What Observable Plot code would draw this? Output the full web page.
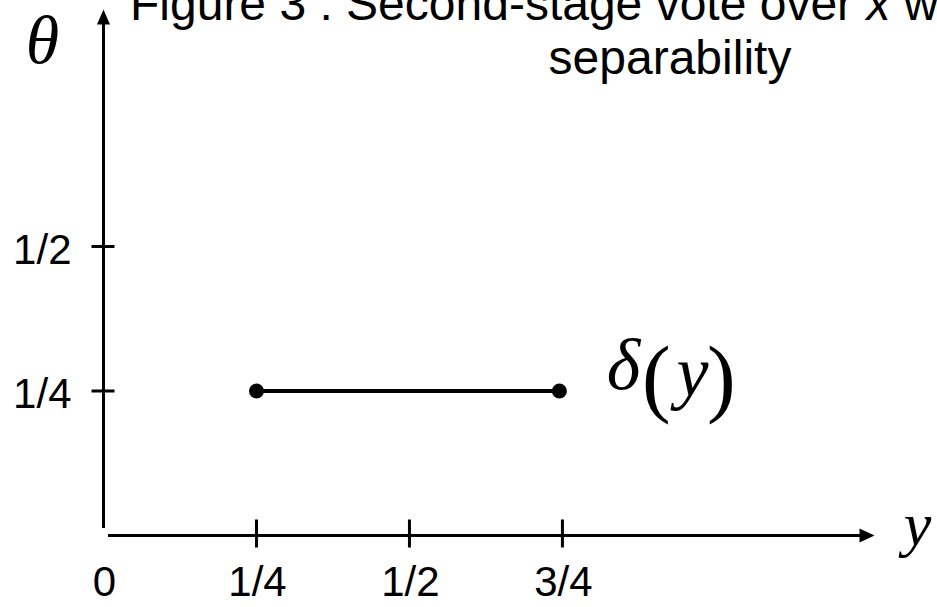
<!DOCTYPE html>
<html>
<head>
<meta charset="utf-8">
<script src="https://cdn.jsdelivr.net/npm/d3@7"></script>
<script src="https://cdn.jsdelivr.net/npm/@observablehq/plot@0.6"></script>
<style>
  html, body { margin: 0; padding: 0; background: #fff; }
  #wrap { position: relative; width: 937px; height: 607px; overflow: hidden; }
  .title { position: absolute; font-family: "Liberation Sans", Arial, sans-serif; font-size: 48px; line-height: 1; white-space: nowrap; color: #000; }
  #t1 { left: 130px; top: -19.6px; }
  #t2 { left: 670px; top: 34.4px; transform: translateX(-50%); }
  svg { position: absolute; left: 0; top: 0; }
  g[aria-label="tick labels"] text { letter-spacing: 2px; }
</style>
</head>
<body>
<div id="wrap">
  <div class="title" id="t1">Figure 3 : Second-stage vote over <i>x</i> with</div>
  <div class="title" id="t2">separability</div>
</div>
<script>
// ---- data ----
const xTickValues = [0.25, 0.5, 0.75];
const xLabelValues = [0, 0.25, 0.5, 0.75];
const xLabels = ["0", "1/4", "1/2", "3/4"];
const yTickValues = [0.25, 0.5];
const yLabels = ["1/4", "1/2"];
const segmentX = [0.25, 0.745];
const segmentTheta = [0.25, 0.25];
const xMax = 1.26;
const yMax = 0.91;

const segment = segmentX.map((x, i) => ({x, y: segmentTheta[i]}));
const serif = "'Liberation Serif', 'Times New Roman', serif";
const sans = "'Liberation Sans', Arial, sans-serif";

// custom symbols
const arrowRight = {draw(ctx) { ctx.moveTo(0, 0); ctx.lineTo(-15, -7); ctx.lineTo(-15, 7); ctx.closePath(); }};
const arrowUp = {draw(ctx) { ctx.moveTo(0, 0); ctx.lineTo(-6.5, 15); ctx.lineTo(6.5, 15); ctx.closePath(); }};
const vTick = {draw(ctx) { ctx.moveTo(0, -16); ctx.lineTo(0, 12); }};
const hTick = {draw(ctx) { ctx.moveTo(-12, 0); ctx.lineTo(11, 0); }};

const chart = Plot.plot({
  width: 937,
  height: 607,
  marginLeft: 103,
  marginRight: 63,
  marginTop: 9,
  marginBottom: 72,
  x: {domain: [0, xMax], axis: null},
  y: {domain: [0, yMax], axis: null},
  marks: [
    // axes
    Plot.ruleY([0], {x1: 0, x2: xMax, insetLeft: 5, insetRight: 14, stroke: "black", strokeWidth: 3}),
    Plot.ruleX([0], {y1: yMax, y2: 0, insetTop: 14, insetBottom: 7, stroke: "black", strokeWidth: 3}),
    Plot.dot([xMax], {x: d => d, y: 0, symbol: arrowRight, fill: "black", stroke: "none"}),
    Plot.dot([yMax], {x: 0, y: d => d, symbol: arrowUp, fill: "black", stroke: "none"}),
    // ticks
    Plot.dot(xTickValues, {x: d => d, y: 0, symbol: vTick, fill: "none", stroke: "black", strokeWidth: 3}),
    Plot.dot(yTickValues, {x: 0, y: d => d, symbol: hTick, fill: "none", stroke: "black", strokeWidth: 3}),
    // tick labels
    Plot.text(xLabelValues, {x: d => d, y: 0, text: (d, i) => xLabels[i], dx: 1, dy: 47, textAnchor: "middle", lineAnchor: "middle", fontSize: 42, fontFamily: sans, fill: "black", ariaLabel: "tick labels"}),
    Plot.text(yTickValues, {x: 0, y: d => d, text: (d, i) => yLabels[i], dx: -32, dy: 4, textAnchor: "end", lineAnchor: "middle", fontSize: 42, fontFamily: sans, fill: "black", ariaLabel: "tick labels"}),
    // axis names
    Plot.text(["θ"], {x: 0, y: yMax, dx: -61, dy: 53, textAnchor: "middle", lineAnchor: "bottom", fontSize: 68, fontStyle: "italic", fontFamily: serif, fill: "black"}),
    Plot.text(["y"], {x: xMax, y: 0, dx: 43, dy: 9, textAnchor: "middle", lineAnchor: "bottom", fontSize: 62, fontStyle: "italic", fontFamily: serif, fill: "black"}),
    // delta(y) segment
    Plot.line(segment, {x: "x", y: "y", stroke: "black", strokeWidth: 4}),
    Plot.dot(segment, {x: "x", y: "y", r: 7.5, fill: "black", stroke: "none"}),
    Plot.text([segment[1]], {x: "x", y: "y", text: () => "δ", dx: 64, dy: -2, textAnchor: "middle", lineAnchor: "bottom", fontSize: 72, fontStyle: "italic", fontFamily: serif, fill: "black"}),
    Plot.text([segment[1]], {x: "x", y: "y", text: () => "(", dx: 97, dy: 15, textAnchor: "middle", lineAnchor: "bottom", fontSize: 86, fontFamily: serif, fill: "black"}),
    Plot.text([segment[1]], {x: "x", y: "y", text: () => "y", dx: 133, dy: 5, textAnchor: "middle", lineAnchor: "bottom", fontSize: 72, fontStyle: "italic", fontFamily: serif, fill: "black"}),
    Plot.text([segment[1]], {x: "x", y: "y", text: () => ")", dx: 162, dy: 15, textAnchor: "middle", lineAnchor: "bottom", fontSize: 86, fontFamily: serif, fill: "black"})
  ]
});
document.getElementById("wrap").prepend(chart);
</script>
</body>
</html>
